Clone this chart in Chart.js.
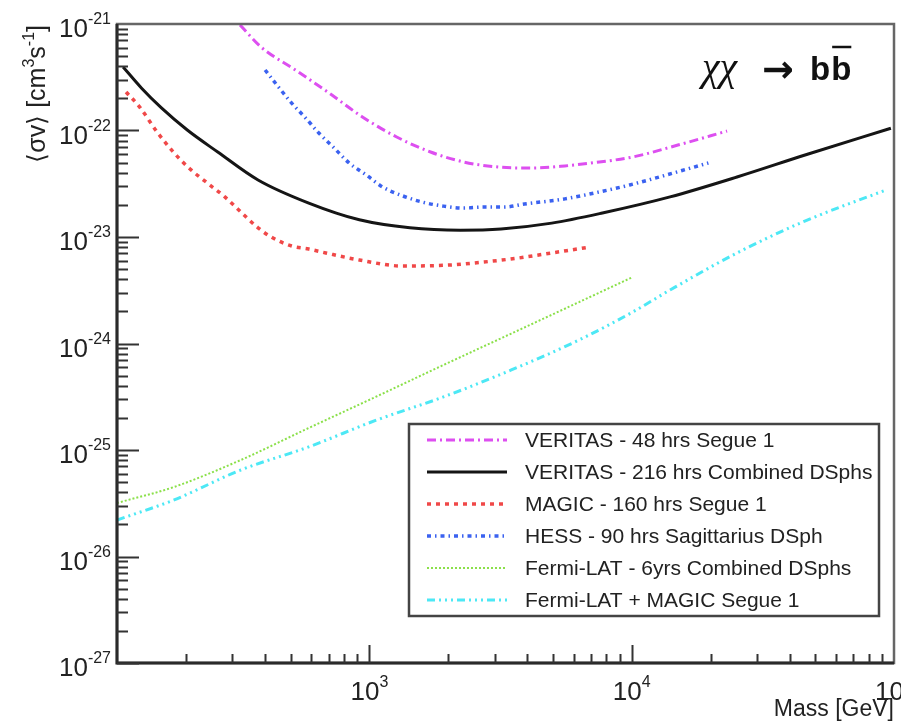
<!DOCTYPE html>
<html>
<head>
<meta charset="utf-8">
<script src="https://cdn.jsdelivr.net/npm/chart.js@4.4.0/dist/chart.umd.min.js"></script>
<style>
  html, body { margin: 0; padding: 0; background: #fff; }
  #wrap { width: 901px; height: 721px; }
</style>
</head>
<body>
<div id="wrap"><canvas id="limits" width="901" height="721"></canvas></div>
<script>
// valeurs (masse en GeV, <sigma v> en cm^3 s^-1)
const massVeritas48 = [321, 386, 522, 701, 940, 1270, 1710, 2290, 3090, 4150, 5560, 7520, 10100, 15000, 23100];
const sigmaVeritas48 = [9.8e-22, 6.08e-22, 3.70e-22, 2.25e-22, 1.34e-22, 8.69e-23, 6.28e-23, 5.06e-23, 4.54e-23, 4.44e-23, 4.65e-23, 5.06e-23, 5.64e-23, 7.3e-23, 9.89e-23];

const massVeritas216 = [115, 135, 161, 202, 264, 376, 587, 915, 1426, 2223, 3175, 4955, 7730, 14000, 25200, 45800, 97300];
const sigmaVeritas216 = [3.95e-22, 2.51e-22, 1.63e-22, 1.01e-22, 6.28e-23, 3.43e-23, 2.08e-23, 1.45e-23, 1.22e-23, 1.16e-23, 1.19e-23, 1.35e-23, 1.68e-23, 2.38e-23, 3.66e-23, 5.89e-23, 1.05e-22];

const massMagic = [118, 133, 155, 180, 207, 241, 281, 323, 376, 422, 505, 587, 682, 915, 1340, 2036, 2730, 3700, 4955, 6950];
const sigmaMagic = [2.30e-22, 1.66e-22, 9.68e-23, 6.15e-23, 4.35e-23, 3.21e-23, 2.38e-23, 1.72e-23, 1.22e-23, 1.0e-23, 8.23e-24, 7.71e-24, 7.08e-24, 6.08e-24, 5.34e-24, 5.46e-24, 5.82e-24, 6.35e-24, 7.08e-24, 8.05e-24];

const massHess = [400, 450, 505, 571, 641, 733, 837, 973, 1122, 1340, 1588, 1914, 2287, 2730, 3262, 3898, 5562, 7520, 9820, 19600];
const sigmaHess = [3.70e-22, 2.56e-22, 1.81e-22, 1.31e-22, 9.48e-23, 6.86e-23, 4.95e-23, 3.82e-23, 2.95e-23, 2.43e-23, 2.13e-23, 1.95e-23, 1.87e-23, 1.91e-23, 1.91e-23, 2.04e-23, 2.28e-23, 2.65e-23, 3.08e-23, 4.95e-23];

const massFermi = [109, 180, 323, 587, 1064, 1914, 3475, 6300, 10100];
const sigmaFermi = [3.18e-26, 4.50e-26, 8.05e-26, 1.61e-25, 3.18e-25, 6.28e-25, 1.24e-24, 2.45e-24, 4.21e-24];

const massFermiMagic = [109, 180, 323, 587, 1064, 1914, 3475, 6300, 10100, 14000, 25200, 45700, 93000];
const sigmaFermiMagic = [2.20e-26, 3.40e-26, 6.49e-26, 1.07e-25, 1.91e-25, 3.15e-25, 5.64e-25, 1.08e-24, 1.98e-24, 3.18e-24, 7.08e-24, 1.41e-23, 2.76e-23];

const seriesNames = [
  'VERITAS - 48 hrs Segue 1',
  'VERITAS - 216 hrs Combined DSphs',
  'MAGIC - 160 hrs Segue 1',
  'HESS - 90 hrs Sagittarius DSph',
  'Fermi-LAT - 6yrs Combined DSphs',
  'Fermi-LAT + MAGIC Segue 1'
];

// étiquettes des axes (puissances de dix)
const xTickExps = [3, 4, 5];
const yTickExps = [-27, -26, -25, -24, -23, -22, -21];

const FONT = '"Liberation Sans", Arial, Helvetica, sans-serif';

function toPoints(xs, ys) {
  return xs.map((x, i) => ({ x: x, y: ys[i] }));
}

function series(label, xs, ys, color, width, dash) {
  return {
    label: label,
    data: toPoints(xs, ys),
    borderColor: color,
    backgroundColor: color,
    borderWidth: width,
    borderDash: dash,
    pointRadius: 0,
    fill: false,
    cubicInterpolationMode: 'monotone'
  };
}

// texte avec exposant : base + exposant
function drawPower(ctx, base, exp, x, y, big, small, align, rise) {
  ctx.font = big + 'px ' + FONT;
  const wb = ctx.measureText(base).width;
  ctx.font = small + 'px ' + FONT;
  const we = ctx.measureText(exp).width;
  const w = wb + we;
  let x0 = x;
  if (align === 'right') x0 = x - w;
  if (align === 'center') x0 = x - w / 2;
  ctx.textAlign = 'left';
  ctx.textBaseline = 'alphabetic';
  ctx.font = big + 'px ' + FONT;
  ctx.fillText(base, x0, y);
  ctx.font = small + 'px ' + FONT;
  ctx.fillText(exp, x0 + wb, y - rise);
}

function drawParts(ctx, parts, x, y) {
  let cx = x;
  parts.forEach(p => {
    ctx.font = p.size + 'px ' + FONT;
    ctx.fillText(p.t, cx, y - (p.rise || 0));
    cx += ctx.measureText(p.t).width;
  });
  return cx - x;
}

function partsWidth(ctx, parts) {
  let w = 0;
  parts.forEach(p => {
    ctx.font = p.size + 'px ' + FONT;
    w += ctx.measureText(p.t).width;
  });
  return w;
}

const rootStyle = {
  id: 'rootStyle',
  afterDatasetsDraw(chart) {
    const ctx = chart.ctx;
    const a = chart.chartArea;
    const xs = chart.scales.x;
    const ys = chart.scales.y;
    ctx.save();

    // cadre
    ctx.strokeStyle = '#666';
    ctx.lineWidth = 2.5;
    ctx.strokeRect(a.left, a.top, a.right - a.left, a.bottom - a.top);
    ctx.strokeStyle = '#2a2a2a';
    ctx.lineWidth = 3;
    ctx.beginPath();
    ctx.moveTo(a.left, a.top);
    ctx.lineTo(a.left, a.bottom);
    ctx.lineTo(a.right, a.bottom);
    ctx.stroke();

    // graduations vers l'intérieur
    ctx.lineWidth = 2;
    ctx.strokeStyle = '#333';
    ctx.beginPath();
    for (let e = -27; e < -21; e++) {
      for (let k = 1; k <= 9; k++) {
        const v = k * Math.pow(10, e);
        const py = Math.round(ys.getPixelForValue(v)) + 0.5;
        const len = k === 1 ? 22 : 11;
        ctx.moveTo(a.left, py);
        ctx.lineTo(a.left + len, py);
      }
    }
    for (let e = 2; e <= 4; e++) {
      for (let k = 1; k <= 9; k++) {
        const v = k * Math.pow(10, e);
        if (v < xs.min || v > xs.max) continue;
        const px = Math.round(xs.getPixelForValue(v)) + 0.5;
        const len = k === 1 ? 18 : 9;
        ctx.moveTo(px, a.bottom);
        ctx.lineTo(px, a.bottom - len);
      }
    }
    ctx.stroke();

    // étiquettes des axes
    ctx.fillStyle = '#222';
    yTickExps.forEach(e => {
      const py = ys.getPixelForValue(Math.pow(10, e));
      drawPower(ctx, '10', String(e), 111, py + 13, 26, 16, 'right', 13);
    });
    xTickExps.forEach(e => {
      const px = xs.getPixelForValue(Math.pow(10, e));
      drawPower(ctx, '10', String(e), px, a.bottom + 37, 26, 16, 'center', 13);
    });

    // titre de l'axe x
    ctx.font = '23px ' + FONT;
    ctx.textAlign = 'right';
    ctx.fillText('Mass [GeV]', a.right, 716);

    // titre de l'axe y (tourné)
    ctx.save();
    ctx.translate(45, a.top + 1);
    ctx.rotate(-Math.PI / 2);
    ctx.textAlign = 'left';
    const yParts = [
      { t: '\u27E8\u03C3v\u27E9 [cm', size: 25 },
      { t: '3', size: 16, rise: 11 },
      { t: 's', size: 25 },
      { t: '-1', size: 16, rise: 11 },
      { t: ']', size: 25 }
    ];
    const yw = partsWidth(ctx, yParts);
    drawParts(ctx, yParts, -yw, 0);
    ctx.restore();

    // annotation du canal
    ctx.fillStyle = '#111';
    ctx.textAlign = 'left';
    ctx.font = 'italic 40px "Liberation Serif", "DejaVu Serif", serif';
    ctx.fillText('\u03C7\u03C7', 702, 80);
    ctx.font = 'bold 38px "DejaVu Sans", sans-serif';
    ctx.fillText('\u2192', 762, 82);
    ctx.font = 'bold 33px ' + FONT;
    ctx.fillText('b', 810, 80);
    const wb = ctx.measureText('b').width;
    ctx.fillText('b', 810 + wb + 1, 80);
    ctx.lineWidth = 2.5;
    ctx.strokeStyle = '#111';
    ctx.beginPath();
    ctx.moveTo(810 + wb + 2, 47);
    ctx.lineTo(810 + 2 * wb + 1, 47);
    ctx.stroke();

    // légende
    const lx = 409, ly = 424, lw = 470, lh = 192;
    ctx.fillStyle = '#fff';
    ctx.fillRect(lx, ly, lw, lh);
    ctx.strokeStyle = '#444';
    ctx.lineWidth = 2.5;
    ctx.strokeRect(lx, ly, lw, lh);
    chart.data.datasets.forEach((ds, i) => {
      const ry = ly + 16 + i * 32;
      ctx.strokeStyle = ds.borderColor;
      ctx.lineWidth = ds.borderWidth;
      ctx.setLineDash(ds.borderDash || []);
      ctx.beginPath();
      ctx.moveTo(427, ry);
      ctx.lineTo(507, ry);
      ctx.stroke();
      ctx.setLineDash([]);
      ctx.fillStyle = '#222';
      ctx.font = '21px ' + FONT;
      ctx.textAlign = 'left';
      ctx.textBaseline = 'middle';
      ctx.fillText(ds.label, 525, ry + 1);
    });
    ctx.restore();
  }
};

new Chart(document.getElementById('limits'), {
  type: 'line',
  data: {
    datasets: [
      series(seriesNames[0], massVeritas48, sigmaVeritas48, '#dd4ff0', 3, [9, 4, 2, 4]),
      series(seriesNames[1], massVeritas216, sigmaVeritas216, '#151515', 3, []),
      series(seriesNames[2], massMagic, sigmaMagic, '#f04848', 3.5, [4, 5]),
      series(seriesNames[3], massHess, sigmaHess, '#3b62f0', 3.5, [4, 4, 1.5, 4]),
      series(seriesNames[4], massFermi, sigmaFermi, '#8be04a', 2, [2, 2]),
      series(seriesNames[5], massFermiMagic, sigmaFermiMagic, '#4de8f5', 3, [8, 4, 2, 4, 2, 4, 2, 4])
    ]
  },
  options: {
    responsive: false,
    animation: false,
    devicePixelRatio: 1,
    layout: { padding: { left: 0, top: 24, right: 7, bottom: 0 } },
    plugins: {
      legend: { display: false },
      tooltip: { enabled: false }
    },
    scales: {
      x: {
        type: 'logarithmic',
        min: 109,
        max: 1e5,
        ticks: { display: false },
        grid: { display: false },
        border: { display: false },
        afterFit(s) { s.height = 58; s.paddingLeft = 0; s.paddingRight = 0; }
      },
      y: {
        type: 'logarithmic',
        min: 1e-27,
        max: 1e-21,
        ticks: { display: false },
        grid: { display: false },
        border: { display: false },
        afterFit(s) { s.width = 117; s.paddingTop = 0; s.paddingBottom = 0; }
      }
    }
  },
  plugins: [rootStyle]
});
</script>
</body>
</html>
